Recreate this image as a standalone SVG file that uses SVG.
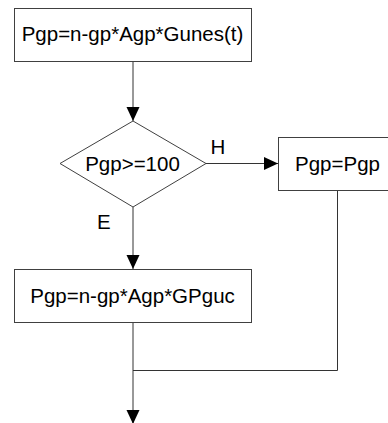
<svg xmlns="http://www.w3.org/2000/svg" width="388" height="423" viewBox="0 0 388 423">
  <style>
    .box { fill: #ffffff; stroke: #404040; stroke-width: 1; }
    .lbl { font-family: "Liberation Sans", Arial, sans-serif; font-size: 20.5px; fill: #000000; }
    .mid { text-anchor: middle; }
    .wire { fill: none; stroke: #333333; stroke-width: 1; }
  </style>
  <defs>
    <marker id="arrow" markerUnits="userSpaceOnUse" markerWidth="16" markerHeight="14" refX="14" refY="6.5" orient="auto">
      <path d="M0,0 L14,6.5 L0,13 Z" fill="#000000"/>
    </marker>
  </defs>

  <rect width="388" height="423" fill="#ffffff"/>

  <g id="connectors">
    <line class="wire" x1="133" y1="62" x2="133" y2="121" marker-end="url(#arrow)"/>
    <line class="wire" x1="206" y1="163.5" x2="278" y2="163.5" marker-end="url(#arrow)"/>
    <line class="wire" x1="133" y1="207" x2="133" y2="269" marker-end="url(#arrow)"/>
    <polyline class="wire" points="337.5,191 337.5,370.5 133,370.5"/>
    <line class="wire" x1="133" y1="323" x2="133" y2="424" marker-end="url(#arrow)"/>
    <text class="lbl" x="210.5" y="154">H</text>
    <text class="lbl" x="97" y="229">E</text>
  </g>

  <g id="start">
    <rect class="box" x="14.5" y="8.5" width="237" height="53"/>
    <text class="lbl mid" x="132.5" y="41">Pgp=n-gp*Agp*Gunes(t)</text>
  </g>

  <g id="check">
    <polygon class="box" points="133,121 206,163.5 133,207 60,163.5"/>
    <text class="lbl mid" x="132.5" y="170.5">Pgp&gt;=100</text>
  </g>

  <g id="keep">
    <rect class="box" x="278.5" y="137.5" width="120" height="53"/>
    <text class="lbl mid" x="337.5" y="170.5">Pgp=Pgp</text>
  </g>

  <g id="update">
    <rect class="box" x="14.5" y="269.5" width="237" height="53"/>
    <text class="lbl mid" x="132.5" y="303">Pgp=n-gp*Agp*GPguc</text>
  </g>
</svg>
